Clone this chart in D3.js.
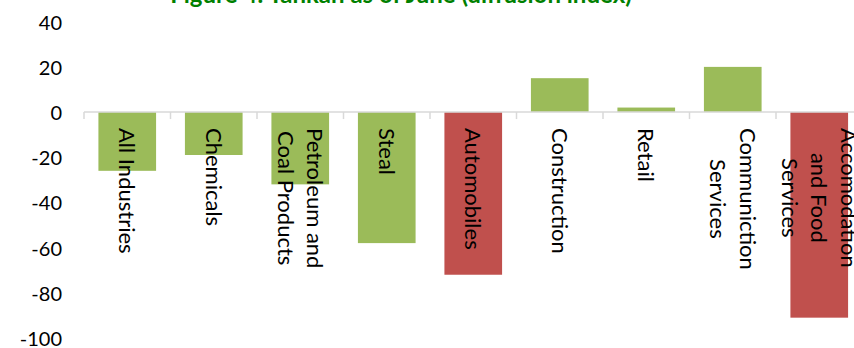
<!DOCTYPE html>
<html><head><meta charset="utf-8">
<script src="https://cdn.jsdelivr.net/npm/d3@7"></script>
<style>html,body{margin:0;padding:0;background:#fff;overflow:hidden}</style>
</head><body>
<svg id="c" width="854" height="348"></svg>
<script>
const categories = ["All Industries","Chemicals","Petroleum and Coal Products","Steal","Automobiles","Construction","Retail","Communiction Services","Accomodation and Food Services"];
const labelLines = [["All Industries"],["Chemicals"],["Petroleum and","Coal Products"],["Steal"],["Automobiles"],["Construction"],["Retail"],["Communiction","Services"],["Accomodation","and Food","Services"]];
const values = [-26,-19,-32,-58,-72,15,2,20,-91];
const highlighted = ["Automobiles","Accomodation and Food Services"];
const yTicks = [40,20,0,-20,-40,-60,-80,-100];
const title = "Figure 4: Tankan as of June (diffusion index)";

const svg = d3.select("#c");
const x = d3.scaleBand().domain(categories).range([84,862.5]).paddingInner(1/3).paddingOuter(1/6);
const xb = d3.scaleBand().domain(categories).range([84,862.5]).padding(0);
const y = d3.scaleLinear().domain([-100,40]).range([338,21.7]);

svg.append("text").attr("x",401).attr("y",3).attr("text-anchor","middle")
  .attr("font-family","Lato").attr("font-weight","bold").attr("font-size",24)
  .attr("fill","#008000").text(title);

// y labels
svg.append("g").selectAll("text").data(yTicks).join("text")
  .attr("x",62).attr("y",d=>y(d)).attr("text-anchor","end").attr("dominant-baseline","central")
  .attr("font-family","Lato").attr("font-size",20).attr("fill","#000").text(d=>d);

// bars
svg.append("g").selectAll("rect").data(categories).join("rect")
  .attr("x",d=>x(d)).attr("width",x.bandwidth())
  .attr("y",(d,i)=>y(Math.max(0,values[i])))
  .attr("height",(d,i)=>Math.abs(y(values[i])-y(0)))
  .attr("fill",d=>highlighted.includes(d)?"#C0504D":"#9BBB59");

// axis line + ticks
const ax = svg.append("g").attr("stroke","#D9D9D9").attr("stroke-width",1.5);
ax.append("line").attr("x1",xb(categories[0])).attr("x2",854).attr("y1",y(0)).attr("y2",y(0));
ax.selectAll("line.t").data(categories).join("line").attr("class","t")
  .attr("x1",d=>xb(d)).attr("x2",d=>xb(d)).attr("y1",y(0)).attr("y2",y(0)+7);

// category labels
const fs = 22, lh = 29.5;
categories.forEach((c,i)=>{
  const lines = labelLines[i];
  const n = lines.length;
  const g = svg.append("g").attr("transform",`translate(${xb(c)+xb.bandwidth()/2},128) rotate(90)`);
  const ts = lines.map((l,j)=> g.append("text").attr("font-family","Lato").attr("font-size",fs)
     .attr("fill","#000").attr("text-anchor","middle")
     .attr("y", -((n-1)/2 - j)*lh + 0.36*fs).text(l));
  const maxLen = d3.max(ts,t=>t.node().getComputedTextLength());
  ts.forEach(t=>t.attr("x",maxLen/2));
});
</script>
</body></html>
